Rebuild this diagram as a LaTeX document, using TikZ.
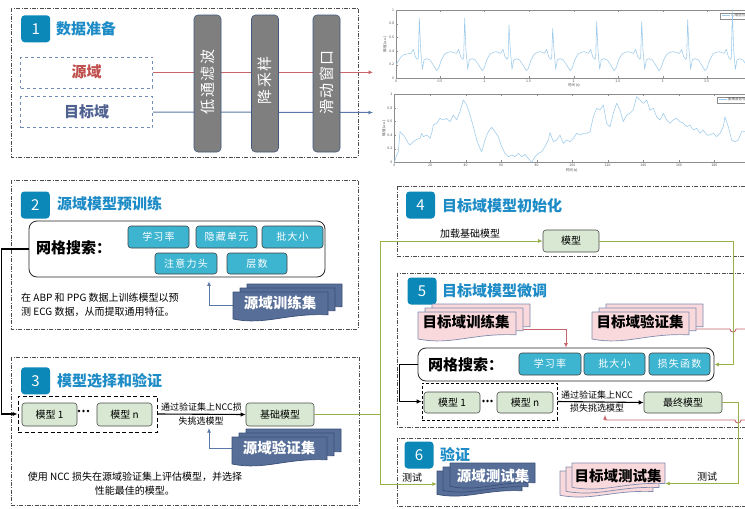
\documentclass[tikz,border=0pt]{standalone}
\usepackage{fontspec}
\setmainfont{Noto Sans CJK SC}
\usetikzlibrary{arrows.meta}
\definecolor{badgec}{HTML}{0B87B8}
\definecolor{titlec}{HTML}{1C8BC6}
\definecolor{paramc}{HTML}{3DB5D1}
\definecolor{modelc}{HTML}{D8E8D2}
\definecolor{darkdoc}{HTML}{566E98}
\definecolor{darkdocb}{HTML}{3B4F78}
\definecolor{pinkdoc}{HTML}{F9D9DC}
\definecolor{pinkdocb}{HTML}{7E8BAE}
\definecolor{redl}{HTML}{C8656A}
\definecolor{bluel}{HTML}{5878A8}
\definecolor{greenl}{HTML}{98B04A}
\definecolor{barc}{HTML}{7F7F7F}
\definecolor{barb}{HTML}{44597E}
\definecolor{sigc}{HTML}{9CCBEB}
\definecolor{srcred}{HTML}{C0504D}
\definecolor{tgtblue}{HTML}{4F6190}
\newcommand{\docpage}[6]{%
  \filldraw[fill=#5, draw=#6, line width=0.7pt, line join=round]
  (#1,#2) -- ({#1+#3},#2) -- ({#1+#3},{#2+0.76*#4})
  .. controls ({#1+0.55*#3},{#2+0.70*#4}) and ({#1+0.35*#3},{#2+1.12*#4}) ..
  (#1,{#2+0.9*#4}) -- cycle;}
\tikzset{
  secbox/.style={draw=black!70, line width=0.6pt, dash pattern=on 4pt off 1.5pt on 0.8pt off 1.5pt},
  badge/.style={fill=badgec, rounded corners=3.5pt, text=white, font=\fontsize{15}{15}\selectfont, minimum width=29pt, minimum height=27pt, inner sep=0pt},
  sectitle/.style={text=titlec, font=\bfseries\fontsize{15}{15}\selectfont, anchor=west, inner sep=0pt},
  param/.style={draw=black!75, line width=0.6pt, fill=paramc, rounded corners=3pt, text=white, font=\fontsize{10}{10}\selectfont\addfontfeatures{LetterSpace=12}, minimum width=61pt, minimum height=22pt, inner sep=0pt},
  model/.style={draw=black!70, line width=0.6pt, fill=modelc, rounded corners=3pt, font=\fontsize{10}{10}\selectfont, minimum height=22pt, inner sep=0pt},
  gridbox/.style={draw=black!85, line width=0.8pt, fill=white, rounded corners=8pt, inner sep=0pt},
  gridlabel/.style={font=\bfseries\fontsize{15}{15}\selectfont, anchor=west, inner sep=0pt},
  procbar/.style={draw=barb, line width=0.6pt, fill=barc, rounded corners=4pt, minimum width=27pt, minimum height=137pt, inner sep=0pt},
  bartext/.style={text=white, font=\fontsize{15}{15}\selectfont\addfontfeatures{LetterSpace=10}, rotate=90, inner sep=0pt},
  srcbox/.style={draw=bluel!85, dashed, line width=0.6pt, minimum width=132pt, minimum height=31pt, font=\bfseries\fontsize{15}{15}\selectfont, inner sep=0pt},
  grpbox/.style={draw=black, line width=1pt, dash pattern=on 4pt off 2.5pt, inner sep=0pt},
  note/.style={font=\fontsize{10}{14}\selectfont, inner sep=0pt},
  arrowlabel/.style={font=\fontsize{9}{9}\selectfont, inner sep=0pt},
  docarea/.style={inner sep=0pt},
  doclabel/.style={font=\bfseries\fontsize{14.5}{14.5}\selectfont, inner sep=0pt},
  blackarrow/.style={draw=black, line width=1.1pt, -{Latex[length=5pt,width=4.5pt]}},
  bluearrow/.style={draw=bluel, line width=0.9pt, -{Latex[length=4.5pt,width=4pt]}},
  redarrow/.style={draw=redl, line width=0.9pt, -{Latex[length=4.5pt,width=4pt]}},
  greenarrow/.style={draw=greenl, line width=1pt, -{Latex[length=4.5pt,width=4pt]}},
  ticklab/.style={font=\fontsize{3.5}{4}\selectfont, text=black!70, inner sep=0.5pt},
  axisc/.style={draw=black!45, line width=0.3pt},
  sig/.style={draw=sigc, line width=0.55pt, line join=round},
}
\begin{document}
\begin{tikzpicture}[x=1pt,y=-1pt]
\useasboundingbox (0,0) rectangle (745,509);
\fill[white] (0,0) rectangle (745,509);

% ---------- section frames ----------
\draw[secbox] (11,8) rectangle (358,157);
\draw[secbox] (11,180) rectangle (358,329);
\draw[secbox] (11,357) rectangle (359,505);
\draw[secbox] (397,186) rectangle (770,256);
\draw[secbox] (397,273) rectangle (770,427);
\draw[secbox] (397,438) rectangle (770,506);

% ---------- badges and titles ----------
\node[badge] (b1) at (35.7,28.8) {1};
\node[sectitle] (t1) at (56,29) {数据准备};
\node[badge] (b2) at (35.3,205) {2};
\node[sectitle] (t2) at (57,204) {源域模型预训练};
\node[badge] (b3) at (35.6,380.8) {3};
\node[sectitle] (t3) at (57,381) {模型选择和验证};
\node[badge] (b4) at (420.5,205) {4};
\node[sectitle] (t4) at (442,206) {目标域模型初始化};
\node[badge] (b5) at (422,291) {5};
\node[sectitle] (t5) at (442,291) {目标域模型微调};
\node[badge] (b6) at (419,455) {6};
\node[sectitle] (t6) at (440,455) {验证};

% ---------- section 1 ----------
\node[srcbox, text=srcred] (src) at (86.7,72.3) {源域};
\node[srcbox, text=tgtblue] (tgt) at (86.7,112) {目标域};
\coordinate (srcend) at (373,72.3);
\coordinate (tgtend) at (373,112.5);
\draw[draw=redl, line width=1pt, -{Latex[length=4.5pt,width=4pt]}] (src.east) -- (srcend);
\draw[draw=bluel, line width=1pt, -{Latex[length=4.5pt,width=4pt]}] (tgt.east) -- (tgtend);
\node[procbar] (bar1) at (207.5,83.5) {};
\node[bartext] (bar1t) at (207.5,82) {低通滤波};
\node[procbar] (bar2) at (265,83.5) {};
\node[bartext] (bar2t) at (265,80) {降采样};
\node[procbar] (bar3) at (326.5,83.5) {};
\node[bartext] (bar3t) at (326.5,82.5) {滑动窗口};

% ---------- plots ----------
\begin{scope}[shift={(370pt,0pt)}, x=0.33333pt, y=-0.33333pt]
  % top plot
  \draw[axisc] (78,30) rectangle (1145,235);
  \foreach \v/\lab [count=\i] in {0/0,0.2/0.2,0.4/0.4,0.6/0.6,0.8/0.8,1/1} {
    \node[ticklab, anchor=east] (ty\i) at (74,235-205*\v) {\lab};
    \draw[axisc] (78,235-205*\v) -- (84,235-205*\v);
  }
  \foreach \xx/\lab [count=\i] in {78/0,210/0.5,343/1,476/1.5,611/2,744/2.5,878/3,1010/3.5} {
    \node[ticklab, anchor=north] (tx\i) at (\xx,238) {\lab};
    \draw[axisc] (\xx,235) -- (\xx,229);
    \draw[axisc] (\xx,30) -- (\xx,36);
  }
  \node[ticklab, rotate=90] (yl1) at (45,132) {幅值 (a.u.)};
  \node[ticklab] (xl1) at (612,257) {时间 (s)};
  \draw[axisc, fill=white] (1050,38) rectangle (1150,56);
  \draw[sig] (1056,47) -- (1080,47);
  \node[ticklab, anchor=west] (lg1) at (1082,47) {心电信号};
  \begin{scope}
    \clip (78,25) rectangle (1145,240);
    \draw[sig] (78,195) -- (90,175) -- (100,165) -- (110,162)
      \foreach \p/\h in {148/0.88,284/0.88,417/0.78,548/0.73,680/0.83,815/0.83,953/0.86,1087/0.98}{
        -- (\p-25,160) -- (\p-18,148) -- (\p-12,170) -- (\p-6,178) -- (\p-3,174)
        -- (\p,235-205*\h) -- (\p+4,150) -- (\p+9,208) -- (\p+14,180) -- (\p+22,176)
        -- (\p+32,180) -- (\p+42,195) -- (\p+52,212) -- (\p+58,205) -- (\p+66,180)
        -- (\p+76,162) -- (\p+86,157) -- (\p+95,155)
      };
  \end{scope}
  % bottom plot
  \draw[axisc] (73,283) rectangle (1145,487);
  \foreach \v/\lab [count=\i] in {0/0,0.2/0.2,0.4/0.4,0.6/0.6,0.8/0.8,1/1} {
    \node[ticklab, anchor=east] (by\i) at (69,487-204*\v) {\lab};
    \draw[axisc] (73,487-204*\v) -- (79,487-204*\v);
  }
  \foreach \xx/\lab [count=\i] in {73/0,180/20,287/40,393/60,500/80,607/100,713/120,820/140,927/160,1033/180} {
    \node[ticklab, anchor=north] (bx\i) at (\xx,490) {\lab};
    \draw[axisc] (\xx,487) -- (\xx,481);
    \draw[axisc] (\xx,283) -- (\xx,289);
  }
  \node[ticklab, rotate=90] (yl2) at (42,385) {幅值 (a.u.)};
  \node[ticklab] (xl2) at (605,512) {时间 (s)};
  \draw[axisc, fill=white] (1040,290) rectangle (1150,308);
  \draw[sig] (1046,299) -- (1070,299);
  \node[ticklab, anchor=west] (lg2) at (1072,299) {脉搏波信号};
  \begin{scope}
    \clip (73,278) rectangle (1145,490);
    \draw[sig] plot coordinates {(73,487) (80,465) (85,455) (90,395) (100,405) (110,420) (115,430) (120,435) (130,425) (140,418) (150,415) (155,400) (160,410) (170,405) (180,415) (185,400) (190,375) (200,370) (210,355) (220,360) (230,355) (240,365) (250,345) (260,360) (270,335) (280,300) (290,315) (300,345) (310,380) (320,420) (330,445) (335,455) (345,420) (355,395) (365,382) (375,395) (385,410) (395,440) (405,460) (415,470) (425,465) (435,470) (445,460) (455,470) (465,463) (475,475) (485,487) (495,470) (505,460) (515,455) (525,440) (535,420) (540,398) (550,425) (560,420) (570,405) (580,430) (590,420) (600,425) (610,415) (620,400) (630,405) (640,400) (650,400) (660,395) (670,350) (680,325) (690,330) (700,315) (710,370) (720,380) (730,340) (740,310) (750,330) (760,365) (770,345) (780,340) (790,330) (800,290) (810,300) (820,310) (830,300) (840,330) (850,325) (860,350) (870,360) (880,340) (890,360) (900,370) (910,360) (920,355) (930,365) (940,370) (950,380) (960,375) (970,390) (980,385) (990,400) (1000,390) (1010,405) (1020,405) (1030,400) (1040,410) (1050,400) (1060,380) (1065,350) (1075,380) (1085,420) (1095,425) (1105,420) (1115,395) (1125,395) (1140,392)};
  \end{scope}
\end{scope}

% ---------- section 2 ----------
\node[gridbox, minimum width=296pt, minimum height=56pt] (gridA) at (177,249) {};
\node[gridlabel] (gridAl) at (36,248) {网格搜索：};
\node[param] (pA1) at (158.5,237) {学习率};
\node[param] (pA2) at (226.5,237) {隐藏单元};
\node[param] (pA3) at (292.5,237) {批大小};
\node[param, minimum width=62pt, minimum height=21pt] (pA4) at (186,263.5) {注意力头};
\node[param, minimum width=60pt, minimum height=21pt] (pA5) at (257,263.5) {层数};
\node[note, anchor=north west, align=left] (noteA) at (21,293) {在\ ABP\ 和\ PPG\ 数据上训练模型以预\\测\ ECG\ 数据，从而提取通用特征。};

% ---------- section 3 ----------
\node[grpbox, minimum width=139pt, minimum height=36pt] (grp3) at (87.5,414) {};
\node[model, minimum width=55pt, minimum height=23pt] (m31) at (49.5,414.5) {模型 1};
\node[model, minimum width=55pt, minimum height=23pt] (m3n) at (124.5,414.5) {模型 n};
\fill (79,411) circle (1.3pt) (83.5,411) circle (1.3pt) (88,411) circle (1.3pt);
\node[model, minimum width=68pt, minimum height=23pt] (base) at (280,414.5) {基础模型};
\node[arrowlabel] (l3a) at (201.5,407) {通过验证集上NCC损};
\node[arrowlabel] (l3b) at (201,421) {失挑选模型};
\node[note, align=center] (note3) at (135,484) {使用 NCC 损失在源域验证集上评估模型，并选择\\性能最佳的模型。};
\draw[blackarrow] (gridA.west) -- ++(-27.3,0) |- (grp3.west);
\draw[blackarrow] (grp3.east) -- (base.west);

% ---------- section 4 ----------
\node[model, minimum width=56pt, minimum height=22pt] (mdl) at (571,241) {模型};
\node[arrowlabel, font=\fontsize{10}{10}\selectfont] (l4) at (470,234) {加载基础模型};

% ---------- section 5 ----------
\node[gridbox, minimum width=296pt, minimum height=33pt] (gridB) at (566,364.5) {};
\node[gridlabel] (gridBl) at (428,365) {网格搜索：};
\node[param, minimum width=62pt] (pB1) at (550,364) {学习率};
\node[param] (pB2) at (614.5,364) {批大小};
\node[param] (pB3) at (679.5,364) {损失函数};
\node[grpbox, line width=0.7pt, dash pattern=on 3pt off 2pt, minimum width=135pt, minimum height=37pt] (grp5) at (489.5,401.5) {};
\node[model, minimum width=56pt, minimum height=21pt] (m51) at (452,402.5) {模型 1};
\node[model, minimum width=56pt, minimum height=21pt] (m5n) at (525,402.5) {模型 n};
\fill (483.5,401) circle (1.3pt) (487.5,401) circle (1.3pt) (491.5,401) circle (1.3pt);
\node[model, minimum width=78pt, minimum height=21pt] (final) at (683,402.5) {最终模型};
\node[arrowlabel] (l5a) at (597,395) {通过验证集上NCC};
\node[arrowlabel] (l5b) at (597,408.5) {损失挑选模型};
\draw[blackarrow] (gridB.west) -- ++(-18,0) |- (grp5.west);
\draw[blackarrow] (grp5.east) -- (final.west);

% ---------- section 6 labels ----------
\node[arrowlabel, font=\fontsize{10}{10}\selectfont] (l6a) at (412,478) {测试};
\node[arrowlabel, font=\fontsize{10}{10}\selectfont] (l6b) at (707,477) {测试};

% ---------- document areas ----------
\node[docarea, minimum width=95pt, minimum height=30pt] (srctrain) at (280.5,307) {};
\node[docarea, minimum width=95pt, minimum height=30pt] (srcval) at (279.5,452) {};
\node[docarea, minimum width=98pt, minimum height=30pt] (tgttrain) at (467,327) {};
\node[docarea, minimum width=97pt, minimum height=30pt] (tgtval) at (640.5,327) {};
\node[docarea, minimum width=85pt, minimum height=26pt] (srctest) at (479.5,484) {};
\node[docarea, minimum width=93pt, minimum height=27pt] (tgttest) at (618.5,476.5) {};
\coordinate (srcvalin) at (209,428);
\coordinate (tgtvalin) at (605,415);
\coordinate (gj) at (380,414.5);

% ---------- connectors ----------
\draw[bluearrow] ([yshift=2pt]srctrain.west) -| ([xshift=32pt,yshift=-4pt]gridA.south);
\draw[bluearrow] ([yshift=4pt]srcval.west) -| (srcvalin);
\draw[redarrow] ([yshift=-2pt]tgttrain.east) -| (gridB.north);
\draw[redarrow] ([yshift=-2pt]tgtval.east) -- (730,329) arc[start angle=180,end angle=360,radius=3pt] -- (775,329) -- (775,420) -- (741,420) arc[start angle=0,end angle=-180,radius=3pt] -- (605,420) -- (tgtvalin);
\draw[draw=greenl, line width=1pt] (base.east) -- (gj);
\draw[greenarrow] (gj) |- (mdl.west);
\draw[greenarrow] (gj) |- (srctest.west);
\draw[greenarrow] (mdl.east) -- ++(134,0) |- (gridB.east);
\draw[greenarrow] (final.east) -- ++(16,0) |- ([yshift=-7pt]tgttest.east);

% ---------- document stacks ----------
\docpage{247}{284}{95}{30}{darkdoc}{darkdocb}
\docpage{240}{288}{95}{30}{darkdoc}{darkdocb}
\docpage{233}{292}{95}{30}{darkdoc}{darkdocb}
\node[doclabel, text=white] (srctrainl) at (280,303) {源域训练集};

\docpage{246}{429}{95}{30}{darkdoc}{darkdocb}
\docpage{239}{433}{95}{30}{darkdoc}{darkdocb}
\docpage{232}{437}{95}{30}{darkdoc}{darkdocb}
\node[doclabel, text=white] (srcvall) at (279,448) {源域验证集};

\docpage{432}{304}{98}{30}{pinkdoc}{pinkdocb}
\docpage{425}{308}{98}{30}{pinkdoc}{pinkdocb}
\docpage{418}{312}{98}{30}{pinkdoc}{pinkdocb}
\node[doclabel] (tgttrainl) at (466,322) {目标域训练集};

\docpage{606}{304}{97}{30}{pinkdoc}{pinkdocb}
\docpage{599}{308}{97}{30}{pinkdoc}{pinkdocb}
\docpage{592}{312}{97}{30}{pinkdoc}{pinkdocb}
\node[doclabel] (tgtvall) at (640,322) {目标域验证集};

\docpage{437}{471}{85}{26}{darkdoc}{darkdocb}
\docpage{443}{467}{85}{26}{darkdoc}{darkdocb}
\docpage{450}{463}{85}{26}{darkdoc}{darkdocb}
\node[doclabel, text=white] (srctestl) at (493,476) {源域测试集};

\docpage{560}{471}{93}{27}{pinkdoc}{pinkdocb}
\docpage{566}{467}{93}{27}{pinkdoc}{pinkdocb}
\docpage{572}{463}{93}{27}{pinkdoc}{pinkdocb}
\node[doclabel] (tgttestl) at (618,476) {目标域测试集};
\end{tikzpicture}
\end{document}
